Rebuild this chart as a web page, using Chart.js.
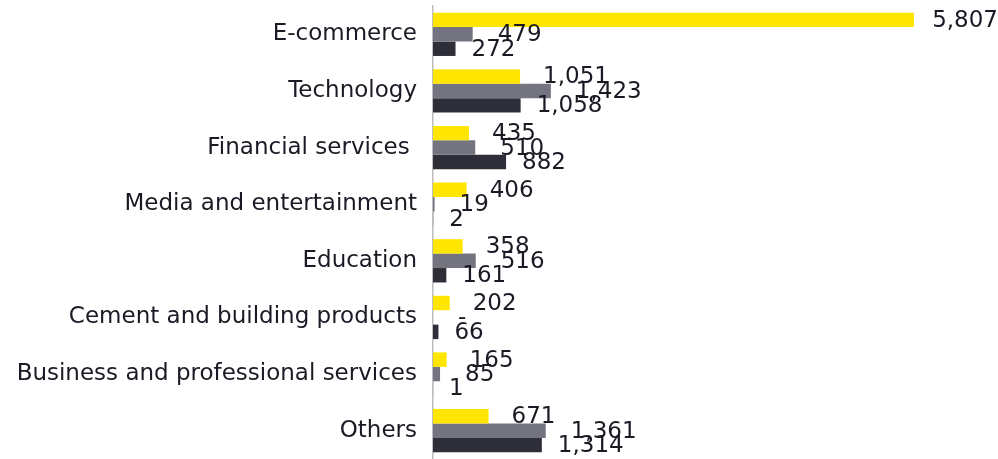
<!DOCTYPE html>
<html>
<head>
<meta charset="utf-8">
<script src="https://cdn.jsdelivr.net/npm/chart.js@4"></script>
<style>
html,body{margin:0;padding:0;background:#fff;}
#wrap{width:998px;height:459px;position:relative;}
</style>
</head>
<body>
<div id="wrap"><canvas id="c" width="998" height="459"></canvas></div>
<script>
const categories = ["E-commerce","Technology","Financial services ","Media and entertainment","Education","Cement and building products","Business and professional services","Others"];
const seriesA = [5807,1051,435,406,358,202,165,671];
const seriesB = [479,1423,510,19,516,0,85,1361];
const seriesC = [272,1058,882,2,161,66,1,1314];
const seriesNames = ["Series A","Series B","Series C"];
const colors = ["#FFE600","#747480","#2E2E38"];
const labelOffsets = [23, 25, 16];

const FONT = "'DejaVu Sans'";
const fmt = v => v === 0 ? "-" : v.toLocaleString("en-US");

const labelPlugin = {
  id: "valueLabels",
  afterDatasetsDraw(chart) {
    const ctx = chart.ctx;
    ctx.save();
    ctx.font = "23px " + FONT;
    ctx.fillStyle = "#1a1a24";
    ctx.textAlign = "left";
    ctx.textBaseline = "middle";
    chart.data.datasets.forEach((ds, di) => {
      const meta = chart.getDatasetMeta(di);
      meta.data.forEach((el, i) => {
        const txt = fmt(ds.data[i]);
        const w = ctx.measureText(txt).width;
        const x = Math.min(el.x + labelOffsets[di], chart.width - w);
        ctx.fillText(txt, x, el.y + 1);
      });
    });
    ctx.restore();
  }
};

new Chart(document.getElementById("c"), {
  type: "bar",
  data: {
    labels: categories,
    datasets: [
      {label: seriesNames[0], data: seriesA, backgroundColor: colors[0]},
      {label: seriesNames[1], data: seriesB, backgroundColor: colors[1]},
      {label: seriesNames[2], data: seriesC, backgroundColor: colors[2]}
    ]
  },
  options: {
    indexAxis: "y",
    responsive: false,
    animation: false,
    layout: {padding: {top: 6, right: 84, bottom: 0, left: 0}},
    datasets: {bar: {barPercentage: 1, categoryPercentage: 0.765}},
    plugins: {legend: {display: false}, tooltip: {enabled: false}},
    scales: {
      x: {display: false, min: 0, max: 5807},
      y: {
        grid: {display: false, drawTicks: true, tickLength: 8},
        border: {display: true, color: "#bdbdbd", width: 1.5},
        ticks: {font: {family: "DejaVu Sans", size: 23}, color: "#1a1a24", padding: 8},
        afterFit(s) { s.width = 433; s.paddingTop = 0; s.paddingBottom = 0; }
      }
    }
  },
  plugins: [labelPlugin]
});
</script>
</body>
</html>
